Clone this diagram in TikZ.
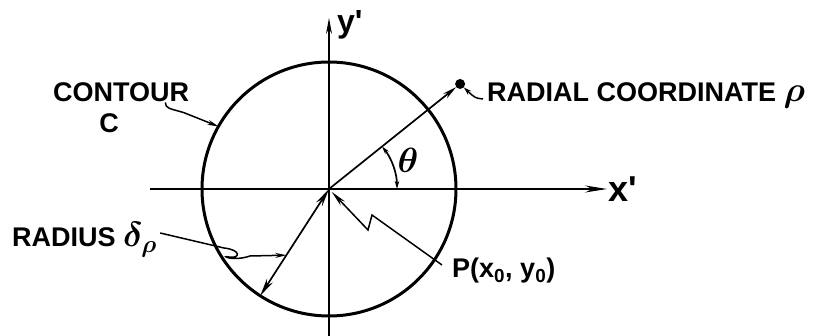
\RequirePackage{fix-cm}
\documentclass[tikz,border=0pt]{standalone}
\usepackage{bm}
\usepackage{fontspec}
\setmainfont{Liberation Sans}
\usetikzlibrary{arrows.meta,calc}
\tikzset{
    axisvec/.style={line width=1.3pt,-{Stealth[length=22pt,width=7pt]}},
    contour/.style={line width=3pt},
    radvec/.style={line width=1.7pt},
    leader/.style={line width=1.5pt,-{Stealth[length=11pt,width=5pt]}},
    tagtext/.style={font=\fontsize{27}{30}\selectfont\bfseries,inner sep=0pt},
    axistext/.style={font=\fontsize{36}{38}\selectfont\bfseries,inner sep=0pt},
    endpt/.style={circle,fill=black,inner sep=0pt,minimum size=10pt}
}
\newcommand{\biggreek}[1]{{\fontsize{35}{38}\selectfont$\bm{#1}$}}

\begin{document}
\begin{tikzpicture}[x=1pt,y=-1pt]
    \useasboundingbox (0,0) rectangle (826,336);
    \coordinate (O) at (329,189);
    % Axes
    \coordinate (xstart) at (150,189);
    \coordinate (xtip) at (607,189);
    \coordinate (ystart) at (329,336);
    \coordinate (ytip) at (329,18);
    \draw[axisvec] (xstart) -- (xtip);
    \draw[axisvec,-{Stealth[length=16pt,width=6pt]}] (ystart) -- (ytip);
    \node[axistext,anchor=base west] (xlbl) at (608,202) {x\textquotesingle};
    \node[font=\fontsize{32}{34}\selectfont\bfseries,inner sep=0pt,anchor=base west] (ylbl) at (337,33) {y\textquotesingle};
    % Contour
    \draw[contour] (O) circle[radius=127];
    \coordinate (cpt) at ($(O)+(209.5:127)$);
    \node[tagtext,anchor=base west] (ctext) at (53,102) {CONTOUR};
    \node[tagtext,anchor=base] (cname) at (109,133) {C};
    \draw[leader] ($(ctext.south east)+(-24,0)$) .. controls +(0,6) and +(-14,-4) .. ++(18,10) -- (cpt);
    % Radial coordinate
    \node[endpt] (rho) at ($(O)+(-38.7:168)$) {};
    \draw[radvec,-{Stealth[length=14pt,width=6pt]}] (O) -- (rho);
    \draw[radvec,{Stealth[length=8pt,width=4.5pt]}-{Stealth[length=8pt,width=4.5pt]}]
        ($(O)+(0:68)$) arc[start angle=0,end angle=-38.7,radius=68];
    \node[inner sep=0pt] (theta) at (408,160) {\biggreek{\theta}};
    \node[tagtext,anchor=base west] (rlbl) at (487,102) {RADIAL COORDINATE \biggreek{\rho}};
    \draw[leader,-{Stealth[length=8pt,width=5pt]}] ($(rlbl.base west)+(-4,-3)$) .. controls +(-8,-1) .. (rho);
    % Radius
    \coordinate (rb) at ($(O)+(122.8:127)$);
    \coordinate (rmid) at ($(O)!0.62!(rb)$);
    \draw[radvec,{Stealth[length=18pt,width=7pt]}-{Stealth[length=18pt,width=7pt]}] (O) -- (rb);
    \node[tagtext,anchor=base west] (radlbl) at (12,247) {RADIUS \biggreek{\delta_\rho}};
    \draw[leader] ($(radlbl.base east)+(3,-14)$) -- (224,248)
        .. controls (242,250) and (240,259) .. (229,257)
        .. controls (220,255) and (232,262) .. (250,256) -- (rmid);
    % Point P
    \node[tagtext,anchor=base west] (plbl) at (452,278) {P(x\textsubscript{0}, y\textsubscript{0})};
    \draw[leader,-{Stealth[length=16pt,width=6pt]},shorten >=4pt]
        ($(plbl.base west)+(-10,-13)$) -- ++(-70,-50) -- ++(-4,15) -- (O);
\end{tikzpicture}
\end{document}
